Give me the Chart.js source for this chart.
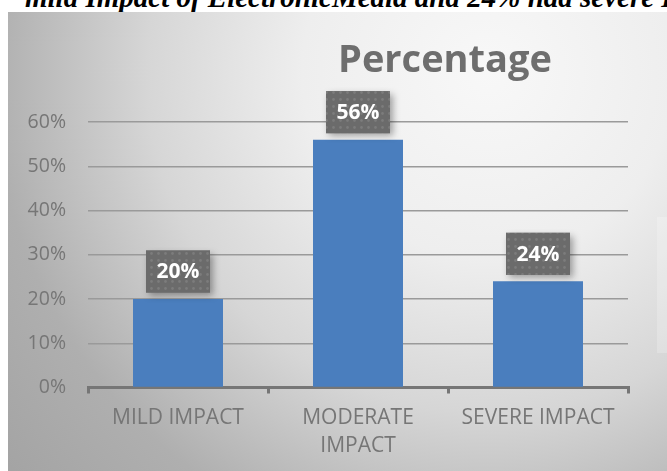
<!DOCTYPE html>
<html>
<head>
<meta charset="utf-8">
<script src="https://cdn.jsdelivr.net/npm/chart.js@4"></script>
<style>
    html, body {
        margin: 0;
        padding: 0;
        width: 667px;
        height: 471px;
        overflow: hidden;
        background: #ffffff;
    }
    #caption {
        position: absolute;
        left: 25px;
        top: -17px;
        white-space: nowrap;
        font-family: 'Liberation Serif', serif;
        font-weight: bold;
        font-style: italic;
        font-size: 29px;
        line-height: 29px;
        color: #000;
    }
    #frame {
        position: absolute;
        left: 8px;
        top: 12px;
        width: 659px;
        height: 459px;
    }
    #legend-ghost {
        position: absolute;
        left: 657px;
        top: 217px;
        width: 10px;
        height: 136px;
        background: rgba(255, 255, 255, 0.22);
    }
</style>
</head>
<body>
<div id="caption">mild Impact of ElectronicMedia and 24% had severe Impact</div>
<div id="frame"><canvas id="chart"></canvas></div>
<div id="legend-ghost"></div>
<script>
// Chart data
const categories = ['MILD IMPACT', ['MODERATE', 'IMPACT'], 'SEVERE IMPACT'];
const percentages = [0.20, 0.56, 0.24];
const yTicks = [0, 0.1, 0.2, 0.3, 0.4, 0.5, 0.6];
const chartTitle = 'Percentage';

const BAR_COLOR = '#4a7ebe';
const TEXT_GRAY = '#767676';

// Gradient background, like the Excel chart area
const backgroundPlugin = {
    id: 'bgGradient',
    beforeDraw(chart) {
        const { ctx, width, height } = chart;
        const g = ctx.createRadialGradient(480, 60, 0, 480, 60, 620);
        g.addColorStop(0, '#f8f8f8');
        g.addColorStop(0.3, '#eeeeee');
        g.addColorStop(0.55, '#d6d6d6');
        g.addColorStop(0.8, '#afafaf');
        g.addColorStop(1, '#a4a4a4');
        ctx.save();
        ctx.fillStyle = g;
        ctx.fillRect(0, 0, width, height);
        ctx.restore();
    }
};

// Title sits right of centre in the original
const titlePlugin = {
    id: 'offsetTitle',
    afterDraw(chart) {
        const { ctx } = chart;
        ctx.save();
        ctx.font = "bold 38px 'Open Sans', sans-serif";
        ctx.fillStyle = '#6e6e6e';
        ctx.textAlign = 'center';
        ctx.textBaseline = 'alphabetic';
        ctx.fillText(chartTitle, 437, 60);
        ctx.restore();
    }
};

function makeDotPattern(ctx) {
    const tile = document.createElement('canvas');
    tile.width = 7;
    tile.height = 7;
    const t = tile.getContext('2d');
    t.fillStyle = '#6b6b6b';
    t.fillRect(0, 0, 7, 7);
    t.fillStyle = '#7c7c7c';
    t.beginPath();
    t.arc(3.5, 3.5, 1.4, 0, Math.PI * 2);
    t.fill();
    return ctx.createPattern(tile, 'repeat');
}

// Boxed value labels above each bar
const labelPlugin = {
    id: 'valueBoxes',
    afterDatasetsDraw(chart) {
        const { ctx } = chart;
        const meta = chart.getDatasetMeta(0);
        const pattern = makeDotPattern(ctx);
        meta.data.forEach((bar, i) => {
            const w = 64, h = 42;
            const x = bar.x - w / 2;
            const y = bar.y - 6.5 - h;
            ctx.save();
            ctx.shadowColor = 'rgba(0, 0, 0, 0.35)';
            ctx.shadowBlur = 7;
            ctx.shadowOffsetX = 3;
            ctx.shadowOffsetY = 3;
            ctx.fillStyle = '#6b6b6b';
            ctx.fillRect(x, y, w, h);
            ctx.restore();

            ctx.save();
            ctx.fillStyle = pattern;
            ctx.fillRect(x, y, w, h);
            ctx.font = "bold 21px 'Open Sans', sans-serif";
            ctx.fillStyle = '#ffffff';
            ctx.textAlign = 'center';
            ctx.textBaseline = 'middle';
            ctx.fillText(Math.round(percentages[i] * 100) + '%', bar.x, y + h / 2 + 1);
            ctx.restore();
        });
    }
};

new Chart(document.getElementById('chart'), {
    type: 'bar',
    data: {
        labels: categories,
        datasets: [{
            data: percentages,
            backgroundColor: BAR_COLOR,
            borderWidth: 0,
            categoryPercentage: 0.5,
            barPercentage: 1
        }]
    },
    options: {
        responsive: true,
        maintainAspectRatio: false,
        devicePixelRatio: 1,
        animation: false,
        layout: {
            padding: { top: 110, right: 39, left: 0, bottom: 0 }
        },
        plugins: {
            legend: { display: false },
            tooltip: { enabled: false }
        },
        scales: {
            x: {
                afterFit(scale) { scale.height = 83.5; },
                grid: {
                    drawOnChartArea: false,
                    drawTicks: true,
                    tickLength: 6,
                    color: '#767676',
                    lineWidth: 3
                },
                border: { display: true, color: '#767676', width: 3 },
                ticks: {
                    color: TEXT_GRAY,
                    padding: 10,
                    maxRotation: 0,
                    font: { family: "'Open Sans', sans-serif", size: 21, lineHeight: 1.36 }
                }
            },
            y: {
                min: 0,
                max: 0.6,
                afterFit(scale) { scale.width = 80; },
                afterBuildTicks(scale) {
                    scale.ticks = yTicks.map(v => ({ value: v }));
                },
                grid: {
                    drawTicks: false,
                    lineWidth: 1.5,
                    color: ctx => ctx.tick && ctx.tick.value === 0 ? 'rgba(0,0,0,0)' : '#9a9a9a'
                },
                border: { display: false },
                ticks: {
                    color: TEXT_GRAY,
                    padding: 22,
                    font: { family: "'Open Sans', sans-serif", size: 19.5 },
                    callback: v => Math.round(v * 100) + '%'
                }
            }
        }
    },
    plugins: [backgroundPlugin, labelPlugin, titlePlugin]
});
</script>
</body>
</html>
